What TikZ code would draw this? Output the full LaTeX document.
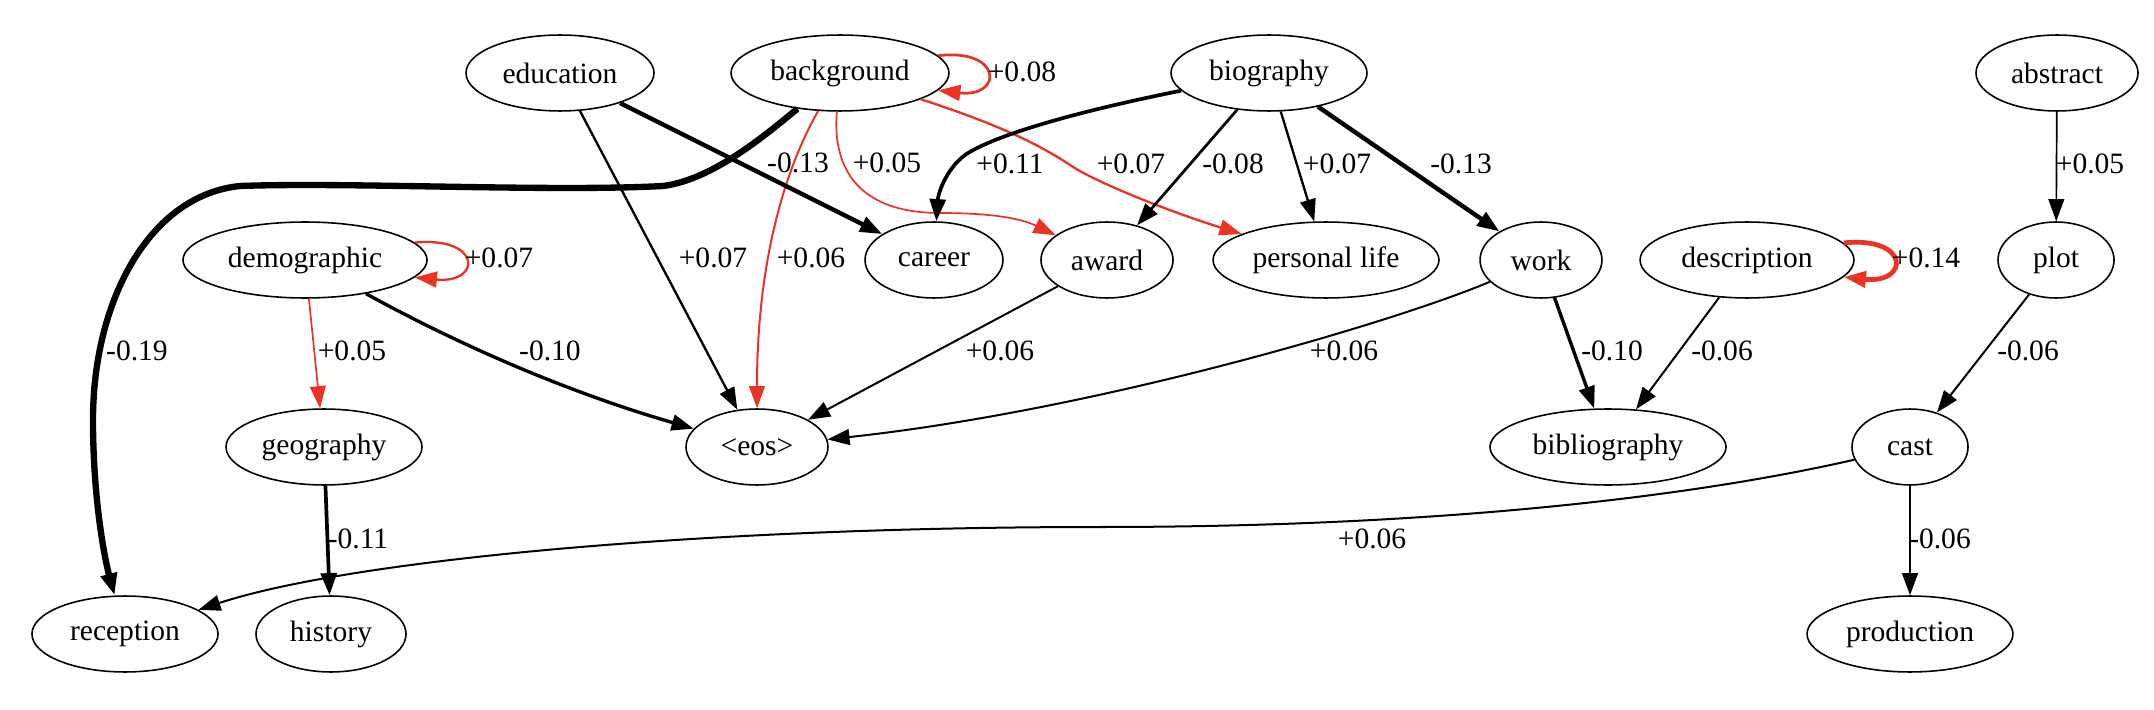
\documentclass[tikz,border=0pt]{standalone}
\usepackage{fontspec}
\setmainfont{Liberation Serif}
\usetikzlibrary{shapes.geometric,arrows.meta}
\definecolor{gvred}{RGB}{234,51,35}
\begin{document}
\begin{tikzpicture}[x=0.474pt,y=-0.474pt,
  nd/.style={ellipse, draw, line width=0.75pt, inner sep=0pt, minimum height=36pt, font=\fontsize{14}{16}\selectfont},
  lbl/.style={inner sep=0pt, font=\fontsize{14}{16}\selectfont},
  edg/.style={-{Triangle[length=10.5pt,width=7.5pt]}, line width=#1},
  redg/.style={-{Triangle[length=10.5pt,width=7.5pt]}, color=gvred, line width=#1}]
\useasboundingbox (0,0) rectangle (2154,710);
% row 1
\node[nd, minimum width=89.1pt]  (edu)  at (560,73)  {education};
\node[nd, minimum width=103.3pt] (bg)   at (840,73)  {background};
\node[nd, minimum width=92.9pt]  (bio)  at (1269,73) {biography};
\node[nd, minimum width=76.8pt]  (abs)  at (2057,73) {abstract};
% row 2
\node[nd, minimum width=115.7pt] (dem)  at (305,260) {demographic};
\node[nd, minimum width=65.4pt]  (car)  at (934,260) {career};
\node[nd, minimum width=62.6pt]  (awd)  at (1107,260) {award};
\node[nd, minimum width=107.1pt] (pl)   at (1326,260) {personal life};
\node[nd, minimum width=57.8pt]  (work) at (1541,260) {work};
\node[nd, minimum width=101.4pt] (desc) at (1747,260) {description};
\node[nd, minimum width=55pt]    (plot) at (2056,260) {plot};
% row 3
\node[nd, minimum width=92.9pt]  (geo)  at (324,447) {geography};
\node[nd, minimum width=67.3pt]  (eos)  at (757,447) {<eos>};
\node[nd, minimum width=111.9pt] (bib)  at (1608,447) {bibliography};
\node[nd, minimum width=55pt]    (cast) at (1910,447) {cast};
% row 4
\node[nd, minimum width=88.2pt]  (rec)  at (125,634) {reception};
\node[nd, minimum width=71.1pt]  (hist) at (331,634) {history};
\node[nd, minimum width=97.6pt]  (prod) at (1910,634) {production};

% red edges
\draw[redg=1.3pt] (bg.10) .. controls (1003,48) and (1003,98) .. (bg.-10);
\draw[redg=0.8pt] (bg) .. controls (832,170) and (860,213) .. (940,213) .. controls (990,213) and (1020,218) .. (awd);
\draw[redg=1.1pt] (bg) .. controls (1000,125) and (1040,145) .. (1070,165) .. controls (1100,185) and (1180,215) .. (pl);
\draw[redg=0.95pt] (bg) .. controls (790,160) and (757,250) .. (eos);
\draw[redg=1.1pt] (dem.9) .. controls (482,236) and (482,284) .. (dem.-9);
\draw[redg=0.8pt] (dem) -- (geo);
\draw[redg=2.25pt] (desc.10) .. controls (1910,236) and (1910,284) .. (desc.-10);

% black edges
\draw[edg=3pt] (bg) .. controls (760,140) and (710,180) .. (663,186) .. controls (550,192) and (350,182) .. (240,186) .. controls (150,195) and (93,300) .. (93,420) .. controls (93,500) and (105,560) .. (rec);
\draw[edg=1.1pt] (edu) -- (eos);
\draw[edg=2.1pt] (edu) -- (car);
\draw[edg=1.75pt] (bio) .. controls (1060,115) and (990,138) .. (965,155) .. controls (945,170) and (938,195) .. (car);
\draw[edg=1.3pt] (bio) -- (awd);
\draw[edg=1.1pt] (bio) -- (pl);
\draw[edg=2.1pt] (bio) -- (work);
\draw[edg=1.6pt] (dem) .. controls (450,340) and (560,390) .. (eos);
\draw[edg=1.75pt] (geo) -- (hist);
\draw[edg=0.95pt] (awd) -- (eos);
\draw[edg=0.95pt] (work) .. controls (1400,320) and (1100,410) .. (eos);
\draw[edg=1.6pt] (work) -- (bib);
\draw[edg=0.95pt] (desc) -- (bib);
\draw[edg=0.8pt] (abs) -- (plot);
\draw[edg=0.95pt] (plot) -- (cast);
\draw[edg=0.95pt] (cast) .. controls (1700,495) and (1450,527) .. (1100,527) .. controls (700,527) and (350,560) .. (rec);
\draw[edg=0.95pt] (cast) -- (prod);

% labels
\node[lbl] (l1)  at (1022,72)  {+0.08};
\node[lbl] (l2)  at (798,163)  {-0.13};
\node[lbl] (l3)  at (887,163)  {+0.05};
\node[lbl] (l4)  at (1010,164) {+0.11};
\node[lbl] (l5)  at (1131,164) {+0.07};
\node[lbl] (l6)  at (1233,164) {-0.08};
\node[lbl] (l7)  at (1337,164) {+0.07};
\node[lbl] (l8)  at (1461,164) {-0.13};
\node[lbl] (l9)  at (2090,164) {+0.05};
\node[lbl] (l10) at (499,258)  {+0.07};
\node[lbl] (l11) at (713,258)  {+0.07};
\node[lbl] (l12) at (811,258)  {+0.06};
\node[lbl] (l13) at (1926,258) {+0.14};
\node[lbl] (l14) at (137,351)  {-0.19};
\node[lbl] (l15) at (352,351)  {+0.05};
\node[lbl] (l16) at (550,351)  {-0.10};
\node[lbl] (l17) at (1000,351) {+0.06};
\node[lbl] (l18) at (1344,351) {+0.06};
\node[lbl] (l19) at (1612,351) {-0.10};
\node[lbl] (l20) at (1722,351) {-0.06};
\node[lbl] (l21) at (2028,351) {-0.06};
\node[lbl] (l22) at (358,539)  {-0.11};
\node[lbl] (l23) at (1372,539) {+0.06};
\node[lbl] (l24) at (1940,539) {-0.06};
\end{tikzpicture}
\end{document}
